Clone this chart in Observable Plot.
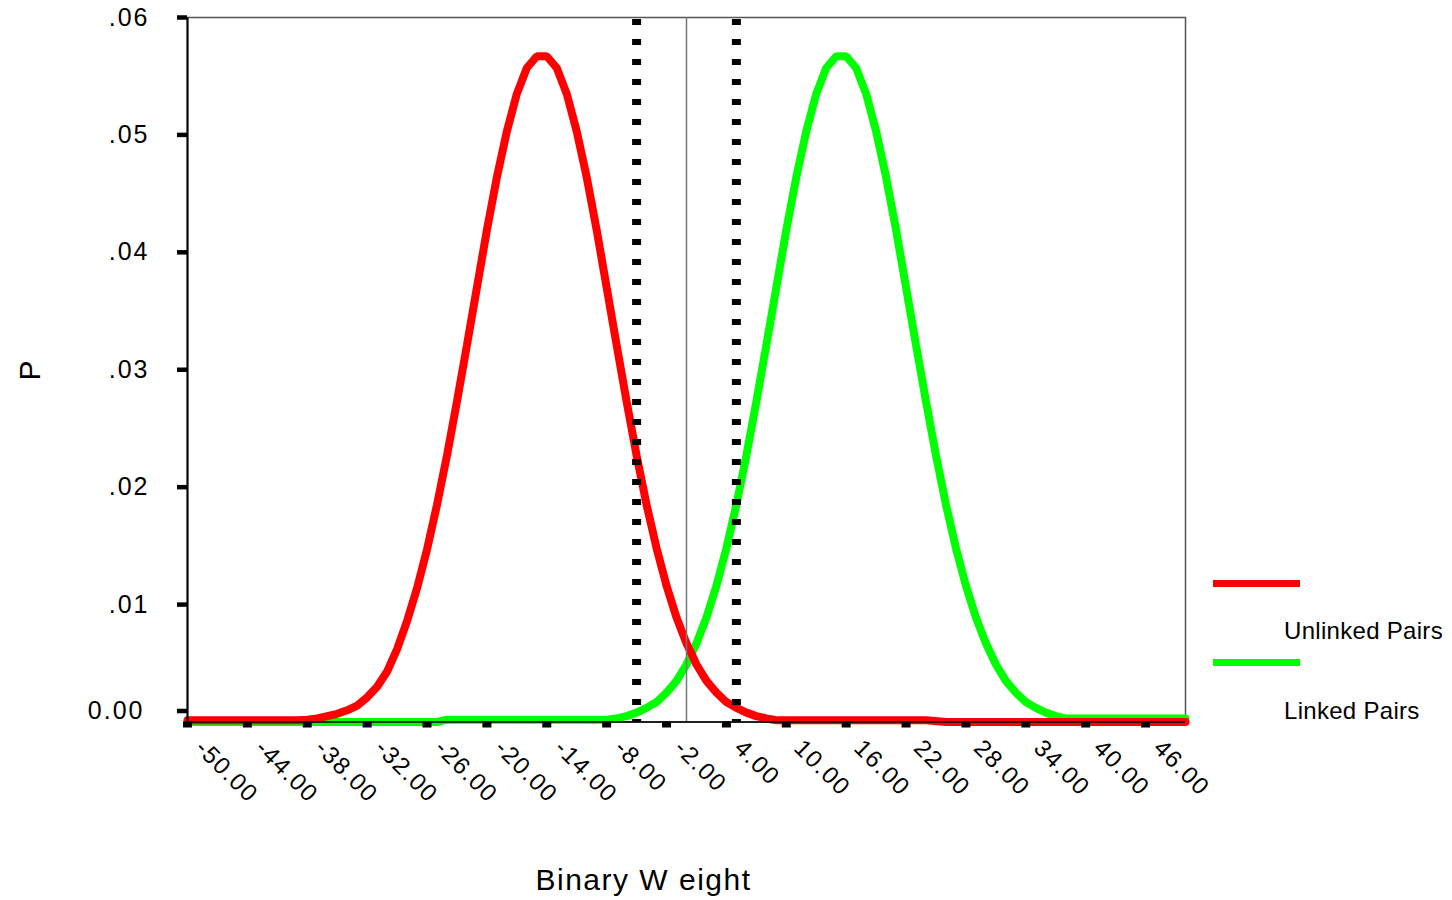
<!DOCTYPE html>
<html>
<head>
<meta charset="utf-8">
<script src="https://cdn.jsdelivr.net/npm/d3@7"></script>
<script src="https://cdn.jsdelivr.net/npm/@observablehq/plot@0.6"></script>
<style>
  html, body { margin: 0; padding: 0; background: #fff; }
  body { font-family: "Liberation Sans", Arial, sans-serif; }
  #wrap { position: relative; width: 1452px; height: 900px; overflow: hidden; }
  #chart svg { display: block; }
  #chart svg g[aria-label="x-axis tick label"] text { letter-spacing: 1.5px; }
  #chart svg g[aria-label="y-axis tick label"] text { letter-spacing: 2px; }
  #chart svg g[aria-label="text"] text { letter-spacing: 1.5px; }
  .leg-swatch { position: absolute; left: 1213px; width: 87px; height: 7px; }
  .leg-label { position: absolute; left: 1284px; font-size: 24px; line-height: 24px; color: #000; white-space: nowrap; letter-spacing: 0.3px; }
</style>
</head>
<body>
<div id="wrap">
  <div id="chart"></div>
</div>
<script>
// ---------- data ----------
const xTitle = "Binary W eight";
const yTitle = "P";

const xTicks = [-50, -44, -38, -32, -26, -20, -14, -8, -2, 4, 10, 16, 22, 28, 34, 40, 46];
const yTicks = [0, 0.01, 0.02, 0.03, 0.04, 0.05, 0.06];
const yTickLabels = ["0.00", ".01", ".02", ".03", ".04", ".05", ".06"];

const cutoffs = [-5, 5];
const centerLine = [0];

const seriesNames = ["Unlinked Pairs", "Linked Pairs"];
const seriesColors = ["#ff0000", "#00ff00"];

const unlinkedX = [-50, -39, -38, -37, -36, -35, -34, -33, -32, -31, -30, -29, -28, -27, -26, -25, -24, -23, -22, -21,
  -20, -19, -18, -17, -16, -15, -14, -13, -12, -11, -10, -9, -8, -7, -6, -5, -4, -3, -2, -1,
  0, 1, 2, 3, 4, 5, 6, 7, 8, 9, 24, 26, 50];
const unlinkedP = [0.00015, 0.00015, 0.0002, 0.0003, 0.0005, 0.0007, 0.0010, 0.0014, 0.0021, 0.0030, 0.0043, 0.0062, 0.0086, 0.0114, 0.0147, 0.0185, 0.0227, 0.0273, 0.0321, 0.0370,
  0.0419, 0.0464, 0.0503, 0.0535, 0.0557, 0.0567, 0.0567, 0.0557, 0.0535, 0.0503, 0.0464, 0.0419, 0.0370, 0.0321, 0.0273, 0.0227, 0.0185, 0.0148, 0.0116, 0.0089,
  0.0067, 0.0049, 0.0035, 0.0025, 0.0017, 0.0012, 0.0008, 0.0005, 0.0003, 0.00015, 0.00015, 0, 0];

const linkedX = [-50, -25, -24, -9, -8, -7, -6, -5, -4, -3, -2, -1, 0, 1, 2, 3, 4, 5, 6, 7,
  8, 9, 10, 11, 12, 13, 14, 15, 16, 17, 18, 19, 20, 21, 22, 23, 24, 25, 26, 27,
  28, 29, 30, 31, 32, 33, 34, 35, 36, 37, 38, 39, 50];
const linkedP = [0, 0, 0.0002, 0.0002, 0.0002, 0.0003, 0.0005, 0.0008, 0.0012, 0.0017, 0.0025, 0.0035, 0.0049, 0.0067, 0.0089, 0.0116, 0.0148, 0.0185, 0.0227, 0.0273,
  0.0321, 0.0370, 0.0419, 0.0464, 0.0503, 0.0535, 0.0557, 0.0567, 0.0567, 0.0557, 0.0535, 0.0503, 0.0464, 0.0419, 0.0370, 0.0321, 0.0273, 0.0227, 0.0185, 0.0148,
  0.0116, 0.0089, 0.0067, 0.0049, 0.0035, 0.0025, 0.0017, 0.0012, 0.0008, 0.0005, 0.0003, 0.0003, 0.0003];

// ---------- tables built from the arrays ----------
const unlinked = unlinkedX.map((x, i) => ({x, p: unlinkedP[i]}));
const linked = linkedX.map((x, i) => ({x, p: linkedP[i]}));
const yLabelMap = new Map(yTicks.map((t, i) => [t, yTickLabels[i]]));

const font = "'Liberation Sans', Arial, sans-serif";

const chart = Plot.plot({
  width: 1452,
  height: 900,
  marginLeft: 187,
  marginRight: 267,
  marginTop: 17,
  marginBottom: 178.5,
  style: {fontFamily: font, background: "white", color: "black", overflow: "visible"},
  x: {domain: [-50, 50]},
  y: {domain: [0, 0.06]},
  marks: [
    Plot.frame({stroke: "#555", strokeWidth: 1.5}),
    Plot.line(linked, {x: "x", y: "p", stroke: seriesColors[1], strokeWidth: 8, strokeLinejoin: "miter"}),
    Plot.line(unlinked, {x: "x", y: "p", stroke: seriesColors[0], strokeWidth: 8, strokeLinejoin: "miter"}),
    Plot.ruleX(centerLine, {stroke: "#777", strokeWidth: 1.5}),
    Plot.ruleX(cutoffs, {stroke: "black", strokeWidth: 9, strokeDasharray: "6 14", strokeDashoffset: -2}),
    Plot.ruleX([-50], {stroke: "black", strokeWidth: 2}),
    Plot.ruleY([0], {stroke: "black", strokeWidth: 1.5}),
    // x ticks (black blocks) and rotated labels
    Plot.axisX(xTicks, {tickSize: 6, strokeWidth: 9, tickFormat: () => "", label: null}),
    Plot.axisX(xTicks, {tickSize: 0, tickRotate: 45, tickPadding: 22, dx: 12, fontSize: 24,
      tickFormat: d => d.toFixed(2), label: null}),
    // y ticks and labels
    Plot.axisY(yTicks.slice(1), {tickSize: 10, strokeWidth: 4.5, tickPadding: 28, fontSize: 25,
      tickFormat: d => yLabelMap.get(d), label: null}),
    Plot.axisY([yTicks[0]], {tickSize: 10, strokeWidth: 4.5, tickPadding: 33, dy: -11, fontSize: 25,
      tickFormat: d => yLabelMap.get(d), label: null}),
    // axis titles
    Plot.text([yTitle], {text: d => d, frameAnchor: "left", rotate: -90, dx: -157, fontSize: 30,
      textAnchor: "middle", lineAnchor: "middle"}),
    Plot.text([xTitle], {text: d => d, frameAnchor: "bottom", dx: -43, dy: 158, fontSize: 30,
      textAnchor: "middle", lineAnchor: "middle"})
  ]
});

document.getElementById("chart").appendChild(chart);

// ---------- legend (HTML, to the right of the plot) ----------
const wrap = document.getElementById("wrap");
const swatchTops = [580, 659];
const labelTops = [619, 699];
seriesNames.forEach((name, i) => {
  const sw = document.createElement("div");
  sw.className = "leg-swatch";
  sw.style.top = swatchTops[i] + "px";
  sw.style.background = seriesColors[i];
  wrap.appendChild(sw);
  const lb = document.createElement("div");
  lb.className = "leg-label";
  lb.style.top = labelTops[i] + "px";
  lb.textContent = name;
  wrap.appendChild(lb);
});
</script>
</body>
</html>
